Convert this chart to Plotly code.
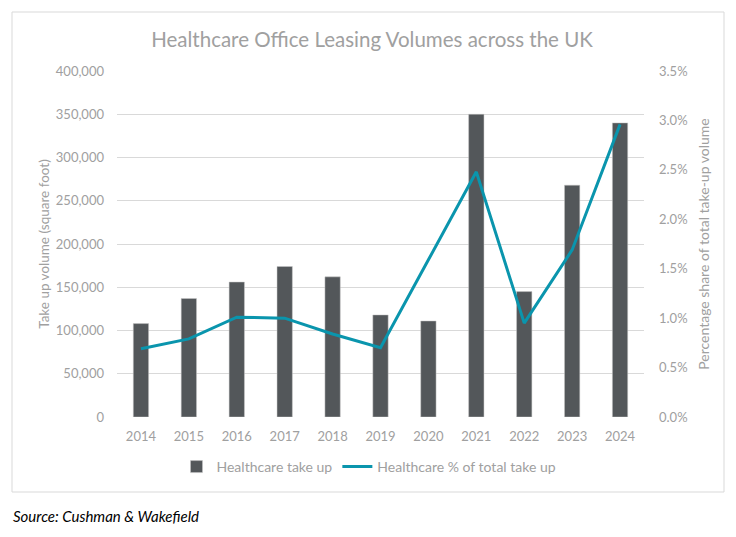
import plotly.graph_objects as go

years = ["2014", "2015", "2016", "2017", "2018", "2019", "2020", "2021", "2022", "2023", "2024"]
take_up = [108000, 137000, 156000, 174000, 162000, 118000, 111000, 350000, 145000, 268000, 340000]
pct_share = [0.69, 0.79, 1.01, 1.00, 0.84, 0.70, 1.59, 2.48, 0.95, 1.69, 2.96]

left_ticks = [0, 50000, 100000, 150000, 200000, 250000, 300000, 350000, 400000]
right_ticks = [0, 0.5, 1.0, 1.5, 2.0, 2.5, 3.0, 3.5]
right_tick_text = [f"{v:.1f}%" for v in right_ticks]

FONT = "Lato, 'Open Sans', sans-serif"
GRAY = "#A0A0A0"

# page body adds an 8px offset; compensate
OFF = 8
L, T, PW, PH = 117 - OFF, 71 - OFF, 527, 346
W, H = 736, 537

fig = go.Figure()
fig.add_trace(go.Bar(
    x=years, y=take_up, name="Healthcare take up",
    marker=dict(color="#53575A", line=dict(color="#C8C8C8", width=0.5)),
    width=0.32, yaxis="y",
))
fig.add_trace(go.Scatter(
    x=years, y=pct_share, name="Healthcare % of total take up",
    mode="lines", line=dict(color="#0A95AD", width=3), yaxis="y2",
))

def px(x):
    return (x - 117) / PW

def py(y):
    return (417 - y) / PH

fig.update_layout(
    width=W, height=H,
    margin=dict(l=L, r=W - L - PW, t=T, b=H - T - PH),
    paper_bgcolor="white", plot_bgcolor="white",
    font=dict(family=FONT, color=GRAY, size=12),
    title=dict(text="Healthcare Office Leasing Volumes across the UK",
               x=px(372), xanchor="center", xref="paper",
               y=1 - (40 - OFF) / H, yanchor="middle",
               font=dict(size=20.5, color=GRAY)),
    showlegend=True,
    legend=dict(orientation="h", x=px(369), xanchor="center", y=py(467), yanchor="middle",
                font=dict(size=14, color=GRAY), tracegroupgap=0),
    xaxis=dict(type="category", showgrid=False, showline=False, ticks="",
               tickfont=dict(size=13, color=GRAY), ticklabelstandoff=10),
    yaxis=dict(range=[0, 400000], tickvals=left_ticks, tickformat=",d",
               gridcolor="#D9D9D9", gridwidth=1, zeroline=False, showline=False,
               tickfont=dict(size=13, color=GRAY), ticklabelstandoff=12,
               title=dict(text="Take up volume (square foot)", standoff=3,
                          font=dict(size=13.5, color=GRAY))),
    yaxis2=dict(range=[0, 3.5], tickvals=right_ticks, ticktext=right_tick_text,
                overlaying="y", side="right",
                showgrid=False, zeroline=False,
                showline=False, tickfont=dict(size=13, color=GRAY), ticklabelstandoff=14,
                title=dict(text="Percentage share of total take-up volume", standoff=12,
                           font=dict(size=14, color=GRAY))),
    shapes=[dict(type="rect", xref="paper", yref="paper",
                 x0=px(12), x1=px(724), y0=py(492), y1=py(12),
                 line=dict(color="#D9D9D9", width=1), fillcolor="rgba(0,0,0,0)", layer="below")],
    annotations=[dict(text="<i>Source: Cushman & Wakefield</i>", xref="paper", yref="paper",
                      x=px(11), y=py(516), xanchor="left", yanchor="middle",
                      showarrow=False, font=dict(size=15, color="black"))],
)

fig.write_html("out.html")
